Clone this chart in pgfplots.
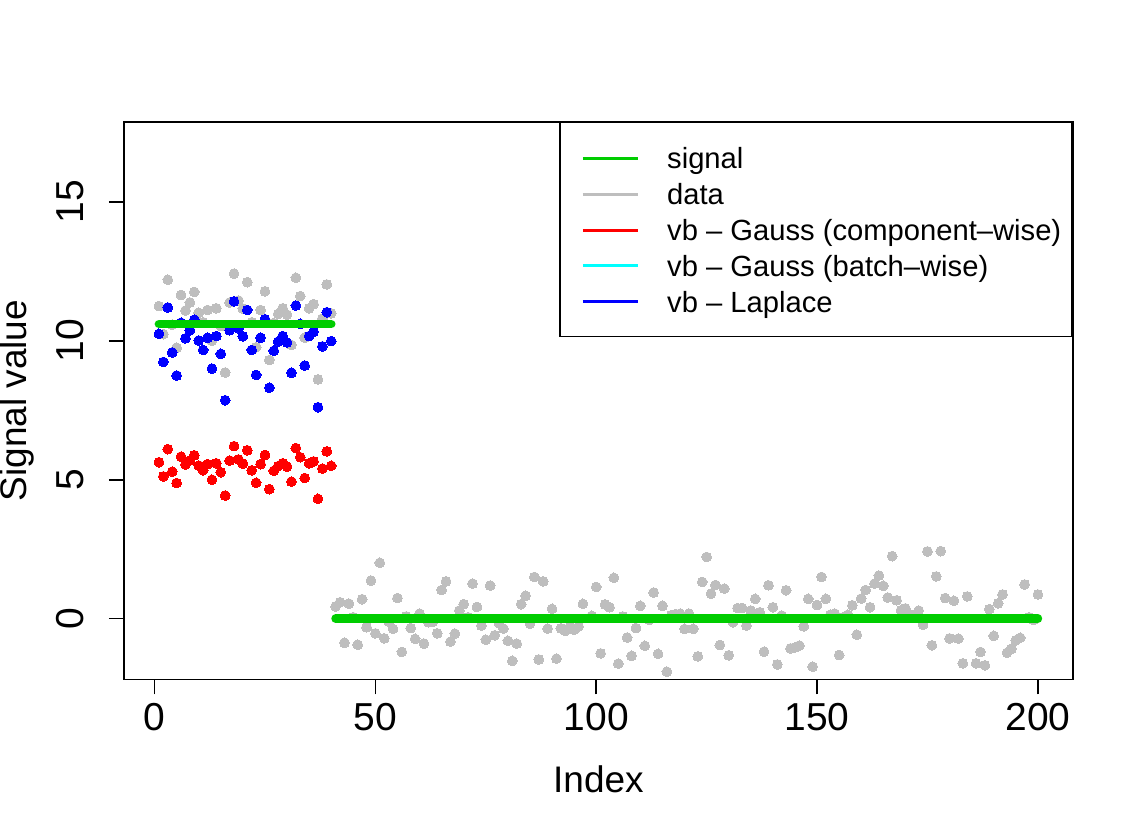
\documentclass[border=0pt]{standalone}
\usepackage{fontspec}
\setmainfont{Liberation Sans}
\usepackage{pgfplots}
\pgfplotsset{compat=1.18}
\usepackage{pgfplotstable}
\usetikzlibrary{calc}
\definecolor{rgray}{HTML}{BEBEBE}
\definecolor{rgreen}{HTML}{00CD00}
\definecolor{rred}{HTML}{FF0000}
\definecolor{rblue}{HTML}{0000FF}
\definecolor{rcyan}{HTML}{00FFFF}

\pgfplotstableread{
i g b r
1 11.25 10.25 5.63
2 10.24 9.24 5.12
3 12.20 11.20 6.10
4 10.58 9.58 5.29
5 9.75 8.75 4.88
6 11.65 10.65 5.83
7 11.09 10.09 5.55
8 11.38 10.38 5.69
9 11.76 10.76 5.88
10 11.01 10.01 5.51
11 10.67 9.67 5.34
12 11.11 10.11 5.56
13 10.00 9.00 5.00
14 11.17 10.17 5.59
15 10.53 9.53 5.27
16 8.86 7.86 4.43
17 11.38 10.38 5.69
18 12.42 11.42 6.21
19 11.45 10.45 5.73
20 11.16 10.16 5.58
21 12.11 11.11 6.06
22 10.67 9.67 5.34
23 9.77 8.77 4.89
24 11.11 10.11 5.56
25 11.78 10.78 5.89
26 9.31 8.31 4.66
27 10.64 9.64 5.32
28 10.97 9.97 5.49
29 11.17 10.17 5.59
30 10.94 9.94 5.47
31 9.85 8.85 4.93
32 12.27 11.27 6.14
33 11.61 10.61 5.81
34 10.11 9.11 5.06
35 11.17 10.17 5.59
36 11.32 10.32 5.66
37 8.61 7.61 4.31
38 10.80 9.80 5.40
39 12.03 11.03 6.02
40 10.99 9.99 5.50
}\lefttab

\pgfplotstableread{
i g
41 0.44
42 0.59
43 -0.87
44 0.54
45 0.05
46 -0.94
47 0.70
48 -0.31
49 1.37
50 -0.53
51 2.01
52 -0.71
53 -0.10
54 -0.37
55 0.74
56 -1.20
57 0.08
58 -0.34
59 -0.73
60 0.18
61 -0.90
62 -0.13
63 -0.12
64 -0.53
65 1.03
66 1.34
67 -0.83
68 -0.54
69 0.29
70 0.52
71 0.05
72 1.26
73 0.42
74 -0.25
75 -0.76
76 1.19
77 -0.60
78 -0.16
79 -0.36
80 -0.80
81 -1.52
82 -0.90
83 0.52
84 0.82
85 -0.18
86 1.50
87 -1.47
88 1.34
89 -0.36
90 0.35
91 -1.44
92 -0.35
93 -0.44
94 -0.30
95 -0.40
96 -0.28
97 0.53
98 -2.40
99 0.10
100 1.14
101 -1.25
102 0.51
103 0.41
104 1.47
105 -1.62
106 0.08
107 -0.68
108 -1.34
109 -0.34
110 0.46
111 -0.98
112 -0.05
113 0.94
114 -1.27
115 0.46
116 -1.91
117 0.12
118 0.16
119 0.18
120 -0.37
121 0.18
122 -0.37
123 -1.36
124 1.32
125 2.22
126 0.90
127 1.21
128 -0.95
129 1.08
130 -1.32
131 -0.13
132 0.38
133 0.38
134 -0.25
135 0.29
136 0.71
137 0.23
138 -1.19
139 1.20
140 0.41
141 -1.65
142 0.11
143 1.02
144 -1.07
145 -1.04
146 -0.97
147 -0.28
148 0.71
149 -1.73
150 0.49
151 1.50
152 0.71
153 0.14
154 0.18
155 -1.31
156 0.05
157 0.14
158 0.48
159 -0.58
160 0.72
161 1.03
162 0.41
163 1.26
164 1.55
165 1.18
166 0.76
167 2.25
168 0.66
169 0.30
170 0.37
171 0.15
172 0.10
173 0.29
174 -0.22
175 2.42
176 -0.96
177 1.52
178 2.43
179 0.74
180 -0.71
181 0.64
182 -0.72
183 -1.61
184 0.80
185 -2.40
186 -1.61
187 -1.20
188 -1.68
189 0.34
190 -0.62
191 0.55
192 0.87
193 -1.23
194 -1.09
195 -0.78
196 -0.69
197 1.23
198 0.05
199 -0.05
200 0.87
}\righttab

\begin{document}
\begin{tikzpicture}
\begin{axis}[
  scale only axis, width=475pt, height=279pt,
  xmin=-6.96, xmax=207.96, ymin=-2.19, ymax=17.88,
  axis line style={line width=0.8pt},
  tick align=outside, major tick length=7.5pt,
  tick style={black, line width=0.8pt},
  xtick pos=lower, ytick pos=left,
  xtick={0,50,100,150,200}, ytick={0,5,10,15},
  /pgf/number format/assume math mode=true,
  ticklabel style={font=\fontsize{19.5pt}{22pt}\selectfont, inner sep=0pt},
  xticklabel style={anchor=base, yshift=-18pt},
  yticklabel style={anchor=base, rotate=90, yshift=12.5pt},
  xlabel={Index}, ylabel={Signal value},
  label style={font=\fontsize{18.5pt}{21pt}\selectfont, inner sep=0pt},
  xlabel style={at={(axis description cs:0.5,-0.2025)}, anchor=base},
  ylabel style={at={(axis description cs:-0.0937,0.5)}, anchor=south},
  clip marker paths=true,
  legend cell align=left,
  legend style={at={(1,1)}, anchor=north east, draw=black, line width=0.8pt,
    font=\fontsize{14.6pt}{17pt}\selectfont,
    inner xsep=5.5pt, inner ysep=8.5pt, row sep=0pt,
    nodes={inner sep=0pt, text height=14.5pt, text depth=3.5pt, anchor=base west},
    /tikz/every odd column/.append style={column sep=14pt}},
]
\addplot[only marks, mark=*, mark size=2.45pt, color=rgray, mark options={line width=0pt}, forget plot] table[x=i, y=g] {\lefttab};
\addplot[only marks, mark=*, mark size=2.45pt, color=rgray, mark options={line width=0pt}, forget plot] table[x=i, y=g] {\righttab};
\addplot[only marks, mark=*, mark size=2.45pt, color=rred, mark options={line width=0pt}, forget plot] table[x=i, y=r] {\lefttab};
\addplot[only marks, mark=*, mark size=2.45pt, color=rblue, mark options={line width=0pt}, forget plot] table[x=i, y=b] {\lefttab};
\addplot[rgreen, line width=4.35pt, line cap=round, forget plot] coordinates {(1,10.6) (40,10.6)};
\addplot[rgreen, line width=4.35pt, line cap=round, forget plot] coordinates {(41,0) (200,0)};

\addlegendimage{legend image code/.code={\path (-5.5pt,0pt); \draw[rgreen, line width=1.5pt] (0pt,5.3pt) -- (27.5pt,5.3pt);}}
\addlegendentry{signal}
\addlegendimage{legend image code/.code={\path (-5.5pt,0pt); \draw[rgray, line width=1.5pt] (0pt,5.3pt) -- (27.5pt,5.3pt);}}
\addlegendentry{data}
\addlegendimage{legend image code/.code={\path (-5.5pt,0pt); \draw[rred, line width=1.5pt] (0pt,5.3pt) -- (27.5pt,5.3pt);}}
\addlegendentry{vb -- Gauss (component--wise)}
\addlegendimage{legend image code/.code={\path (-5.5pt,0pt); \draw[rcyan, line width=1.5pt] (0pt,5.3pt) -- (27.5pt,5.3pt);}}
\addlegendentry{vb -- Gauss (batch--wise)}
\addlegendimage{legend image code/.code={\path (-5.5pt,0pt); \draw[rblue, line width=1.5pt] (0pt,5.3pt) -- (27.5pt,5.3pt);}}
\addlegendentry{vb -- Laplace}

\path (rel axis cs:0,0) coordinate (SW) (rel axis cs:1,1) coordinate (NE);
\end{axis}
\useasboundingbox ($(SW)+(-61.5pt,-77pt)$) rectangle ($(NE)+(31.5pt,61pt)$);
\end{tikzpicture}
\end{document}
